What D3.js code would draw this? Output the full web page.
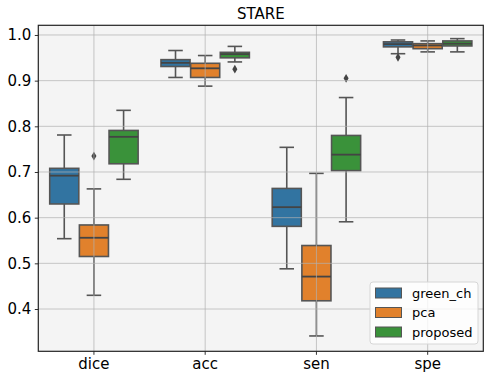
<!DOCTYPE html>
<meta charset="utf-8">
<head>
    <title>STARE</title>
    <script src="https://cdn.jsdelivr.net/npm/d3@7"></script>
</head>

<style>
    body { margin: 0; background: white; }
    text { font-family: "DejaVu Sans", sans-serif; fill: #000; }
</style>

<svg></svg>

<script>
    // data: [whisker low, q1, median, q3, whisker high]
    var categories = ["dice", "acc", "sen", "spe"];
    var hues = ["green_ch", "pca", "proposed"];
    var colors = ["#3274a1", "#e1812c", "#3a923a"];

    var greenCh = [
        [0.554, 0.630, 0.692, 0.708, 0.781],
        [0.907, 0.931, 0.939, 0.946, 0.966],
        [0.488, 0.581, 0.623, 0.664, 0.754],
        [0.959, 0.974, 0.980, 0.985, 0.989]
    ];
    var pca = [
        [0.430, 0.515, 0.556, 0.584, 0.663],
        [0.888, 0.907, 0.927, 0.938, 0.955],
        [0.341, 0.418, 0.471, 0.539, 0.697],
        [0.963, 0.970, 0.977, 0.981, 0.987]
    ];
    var proposed = [
        [0.684, 0.718, 0.777, 0.791, 0.835],
        [0.941, 0.950, 0.958, 0.962, 0.975],
        [0.591, 0.703, 0.738, 0.780, 0.863],
        [0.963, 0.976, 0.981, 0.987, 0.992]
    ];
    // outliers: [category, hue index, value]
    var outliers = [
        ["dice", 1, 0.735],
        ["acc", 2, 0.925],
        ["sen", 2, 0.905],
        ["spe", 0, 0.951]
    ];
    var yTicks = [0.4, 0.5, 0.6, 0.7, 0.8, 0.9, 1.0];

    var series = [greenCh, pca, proposed];

    var vWidth = 491, vHeight = 380;
    var pLeft = 38.3, pRight = 483.3, pTop = 25.3, pBottom = 351.3;
    var lineColor = "#555";

    var svg = d3.select("svg").attr("width", vWidth).attr("height", vHeight);

    var x = d3.scaleBand().domain(categories).range([pLeft, pRight]).padding(0);
    var y = d3.scaleLinear().domain([0.3074, 1.0212]).range([pBottom, pTop]);

    var boxW = x.bandwidth() * 0.8 / 3;
    function hueX(cat, i) { return x(cat) + x.bandwidth() / 2 + (i - 1) * boxW; }

    // plot background
    svg.append("rect")
        .attr("x", pLeft).attr("y", pTop)
        .attr("width", pRight - pLeft).attr("height", pBottom - pTop)
        .attr("fill", "#f4f4f4");

    var g = svg.append("g");

    series.forEach(function (s, i) {
        s.forEach(function (d, j) {
            var cat = categories[j];
            var cx = hueX(cat, i);
            var bw = boxW * 0.98;
            // whiskers
            g.append("line").attr("x1", cx).attr("x2", cx)
                .attr("y1", y(d[0])).attr("y2", y(d[1]))
                .attr("stroke", lineColor).attr("stroke-width", 1.6);
            g.append("line").attr("x1", cx).attr("x2", cx)
                .attr("y1", y(d[3])).attr("y2", y(d[4]))
                .attr("stroke", lineColor).attr("stroke-width", 1.6);
            // caps
            [d[0], d[4]].forEach(function (v) {
                g.append("line").attr("x1", cx - bw / 4).attr("x2", cx + bw / 4)
                    .attr("y1", y(v)).attr("y2", y(v))
                    .attr("stroke", lineColor).attr("stroke-width", 1.6);
            });
            // box
            g.append("rect")
                .attr("x", cx - bw / 2).attr("y", y(d[3]))
                .attr("width", bw).attr("height", y(d[1]) - y(d[3]))
                .attr("fill", colors[i])
                .attr("stroke", lineColor).attr("stroke-width", 1.6);
            // median
            g.append("line").attr("x1", cx - bw / 2).attr("x2", cx + bw / 2)
                .attr("y1", y(d[2])).attr("y2", y(d[2]))
                .attr("stroke", "#444").attr("stroke-width", 1.8);
        });
    });

    // outliers as diamonds
    g.selectAll("path.flier").data(outliers).enter().append("path")
        .attr("class", "flier")
        .attr("d", d3.symbol().type(d3.symbolDiamond).size(22))
        .attr("transform", function (d) {
            return "translate(" + hueX(d[0], d[1]) + "," + y(d[2]) + ")";
        })
        .attr("fill", "#444");

    // grid on top, semi transparent
    var grid = svg.append("g").attr("stroke", "#b0b0b0").attr("stroke-opacity", 0.7).attr("stroke-width", 1);
    yTicks.forEach(function (t) {
        grid.append("line").attr("x1", pLeft).attr("x2", pRight)
            .attr("y1", y(t)).attr("y2", y(t));
    });
    categories.forEach(function (c) {
        var cx = x(c) + x.bandwidth() / 2;
        grid.append("line").attr("x1", cx).attr("x2", cx)
            .attr("y1", pTop).attr("y2", pBottom);
    });

    // axes
    var yAxis = svg.append("g").attr("transform", "translate(" + pLeft + ",0)")
        .call(d3.axisLeft(y).tickValues(yTicks).tickFormat(d3.format(".1f")).tickSizeOuter(0).tickSize(3.5).tickPadding(3.5));
    var xAxis = svg.append("g").attr("transform", "translate(0," + pBottom + ")")
        .call(d3.axisBottom(x).tickSizeOuter(0).tickSize(3.5).tickPadding(3.5));
    [yAxis, xAxis].forEach(function (a) {
        a.select(".domain").remove();
        a.selectAll("text").style("font-size", "15px").style("font-family", "DejaVu Sans");
        a.selectAll("line").attr("stroke", "#333");
    });

    // frame
    svg.append("rect")
        .attr("x", pLeft).attr("y", pTop)
        .attr("width", pRight - pLeft).attr("height", pBottom - pTop)
        .attr("fill", "none").attr("stroke", "#222").attr("stroke-width", 1.2);

    // title
    svg.append("text").attr("x", (pLeft + pRight) / 2).attr("y", 19)
        .attr("text-anchor", "middle").style("font-size", "15px").text("STARE");

    // legend
    var lg = svg.append("g").attr("transform", "translate(370,282)");
    lg.append("rect").attr("width", 108).attr("height", 62).attr("rx", 3)
        .attr("fill", "white").attr("fill-opacity", 0.8)
        .attr("stroke", "#d6d6d6");
    hues.forEach(function (h, i) {
        var row = lg.append("g").attr("transform", "translate(0," + (11 + i * 19.5) + ")");
        row.append("rect").attr("x", 5.5).attr("y", -5).attr("width", 26).attr("height", 10)
            .attr("fill", colors[i]).attr("stroke", lineColor).attr("stroke-width", 1);
        row.append("text").attr("x", 42).attr("y", 4.5).style("font-size", "13px").text(h);
    });
</script>
